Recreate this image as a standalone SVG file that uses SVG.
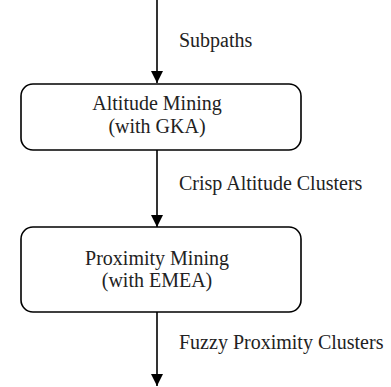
<svg xmlns="http://www.w3.org/2000/svg" width="391" height="387" viewBox="0 0 391 387">
<style>
.box{fill:#fff;stroke:#000;stroke-width:1.6}
.t{font-family:'Liberation Serif','Times New Roman','DejaVu Serif',serif;font-size:20px;fill:#222}
.c{text-anchor:middle}
.ln{stroke:#000;stroke-width:1.6;fill:none}
</style>
<defs>
<marker id="ah" markerUnits="userSpaceOnUse" markerWidth="12" markerHeight="12" refX="12" refY="6" orient="auto">
<path d="M0,0 L12,6 L0,12 Z" fill="#000"/>
</marker>
</defs>
<rect width="391" height="387" fill="#fff"/>
<g id="connectors">
<line class="ln" x1="157" y1="0" x2="157" y2="83" marker-end="url(#ah)"/>
<line class="ln" x1="157" y1="150" x2="157" y2="227" marker-end="url(#ah)"/>
<line class="ln" x1="157" y1="312" x2="157" y2="386" marker-end="url(#ah)"/>
<text class="t" x="179" y="47" font-family="Liberation Serif, serif">Subpaths</text>
<text class="t" x="179" y="190" font-family="Liberation Serif, serif">Crisp Altitude Clusters</text>
<text class="t" x="179" y="349" font-family="Liberation Serif, serif">Fuzzy Proximity Clusters</text>
</g>
<g id="altitude">
<rect class="box" x="21" y="84" width="280" height="66" rx="12"/>
<text class="t c" x="157" y="110" font-family="Liberation Serif, serif">Altitude Mining</text>
<text class="t c" x="157" y="133" font-family="Liberation Serif, serif">(with GKA)</text>
</g>
<g id="proximity">
<rect class="box" x="21" y="227" width="280" height="85" rx="12"/>
<text class="t c" x="157" y="265" font-family="Liberation Serif, serif">Proximity Mining</text>
<text class="t c" x="157" y="287" font-family="Liberation Serif, serif">(with EMEA)</text>
</g>
</svg>
